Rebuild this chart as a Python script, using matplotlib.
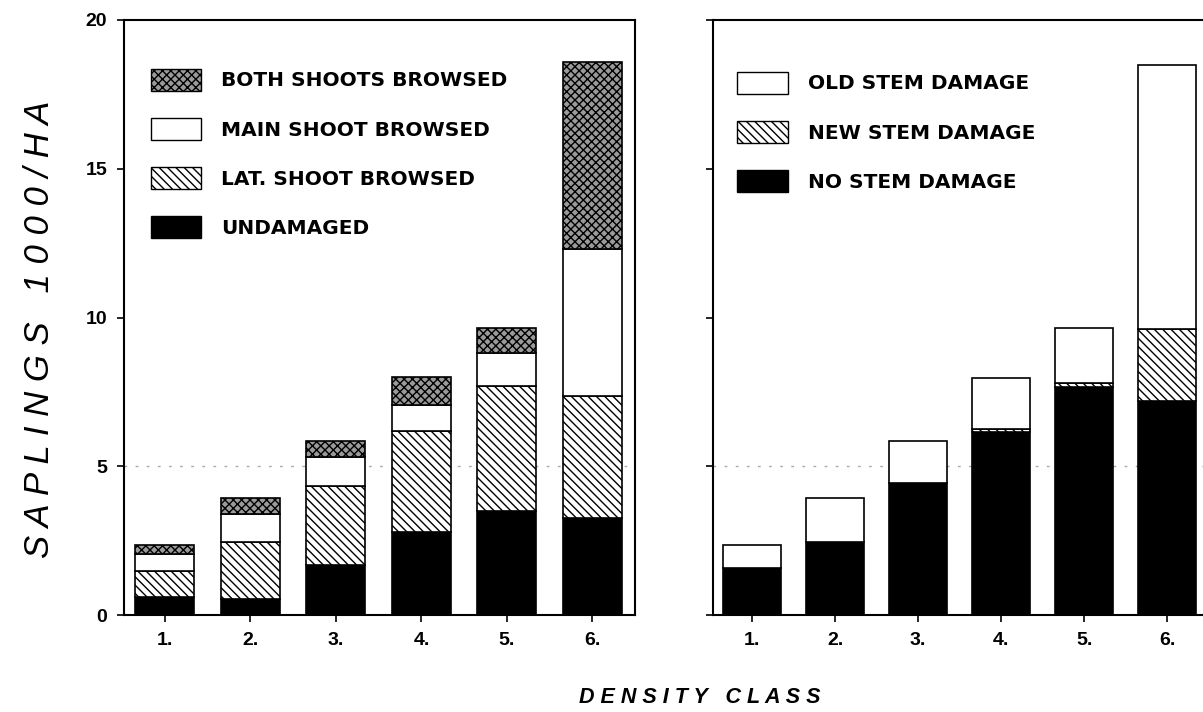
import matplotlib.pyplot as plt
from matplotlib.patches import Patch

plt.rcParams['font.family'] = ['Liberation Sans', 'DejaVu Sans']
plt.rcParams['hatch.linewidth'] = 1.0

# Density classes
classes = ["1.", "2.", "3.", "4.", "5.", "6."]

# Left panel: browsing damage (saplings 1000/ha), stacked bottom -> top
undamaged = [0.6, 0.55, 1.7, 2.8, 3.5, 3.25]
lat_shoot = [0.9, 1.9, 2.65, 3.4, 4.2, 4.1]
main_shoot = [0.55, 0.95, 0.95, 0.85, 1.1, 4.95]
both_shoots = [0.3, 0.55, 0.55, 0.95, 0.85, 6.3]

# Right panel: stem damage
no_stem = [1.6, 2.45, 4.45, 6.15, 7.65, 7.2]
new_stem = [0.0, 0.0, 0.0, 0.12, 0.15, 2.4]
old_stem = [0.75, 1.5, 1.4, 1.7, 1.85, 8.9]

x = list(range(1, len(classes) + 1))
w = 0.69

fig = plt.figure(figsize=(12.03, 7.12), dpi=100)
ax1 = fig.add_axes([0.103, 0.136, 0.425, 0.836])
ax2 = fig.add_axes([0.5927, 0.136, 0.4106, 0.836])

# left stacked bars
b = [0] * len(x)
ax1.bar(x, undamaged, w, bottom=b, color='black', edgecolor='black', lw=1.2)
b = [p + q for p, q in zip(b, undamaged)]
ax1.bar(x, lat_shoot, w, bottom=b, color='white', edgecolor='black', hatch='\\\\\\\\', lw=1.2)
b = [p + q for p, q in zip(b, lat_shoot)]
ax1.bar(x, main_shoot, w, bottom=b, color='white', edgecolor='black', lw=1.2)
b = [p + q for p, q in zip(b, main_shoot)]
ax1.bar(x, both_shoots, w, bottom=b, color='#9a9a9a', edgecolor='black', hatch='xxxx', lw=1.2)

# right stacked bars
b = [0] * len(x)
ax2.bar(x, no_stem, w, bottom=b, color='black', edgecolor='black', lw=1.2)
b = [p + q for p, q in zip(b, no_stem)]
ax2.bar(x, new_stem, w, bottom=b, color='white', edgecolor='black', hatch='\\\\\\\\', lw=1.2)
b = [p + q for p, q in zip(b, new_stem)]
ax2.bar(x, old_stem, w, bottom=b, color='white', edgecolor='black', lw=1.2)

ax1.set_xlim(0.52, 6.5)
ax2.set_xlim(0.53, 6.48)
for ax in (ax1, ax2):
    ax.set_ylim(0, 20)
    ax.set_xticks(x)
    ax.set_xticklabels(classes, fontsize=14, fontweight='bold')
    ax.set_yticks([0, 5, 10, 15, 20])
    ax.axhline(5, color='#aaaaaa', lw=1, ls=(0, (2, 6)), zorder=0)
    ax.tick_params(direction='out', length=5, width=1.2, pad=7)
    for s in ax.spines.values():
        s.set_linewidth(1.5)

ax1.set_yticklabels(['0', '5', '10', '15', '20'], fontsize=14, fontweight='bold')
ax2.set_yticklabels([])

leg_font = {'family': 'DejaVu Sans', 'weight': 'bold', 'size': 14.5}

leg1 = [Patch(facecolor='#9a9a9a', edgecolor='black', hatch='xxxx', label='BOTH SHOOTS BROWSED'),
        Patch(facecolor='white', edgecolor='black', label='MAIN SHOOT BROWSED'),
        Patch(facecolor='white', edgecolor='black', hatch='\\\\\\\\', label='LAT. SHOOT BROWSED'),
        Patch(facecolor='black', edgecolor='black', label='UNDAMAGED')]
ax1.legend(handles=leg1, loc='upper left', bbox_to_anchor=(0.053, 0.918), frameon=False,
           prop=leg_font, handlelength=2.5, handleheight=1.3, borderpad=0, borderaxespad=0,
           labelspacing=1.35, handletextpad=1.0)

leg2 = [Patch(facecolor='white', edgecolor='black', label='OLD STEM DAMAGE'),
        Patch(facecolor='white', edgecolor='black', hatch='\\\\\\\\', label='NEW STEM DAMAGE'),
        Patch(facecolor='black', edgecolor='black', label='NO STEM DAMAGE')]
ax2.legend(handles=leg2, loc='upper left', bbox_to_anchor=(0.049, 0.913), frameon=False,
           prop=leg_font, handlelength=2.5, handleheight=1.3, borderpad=0, borderaxespad=0,
           labelspacing=1.35, handletextpad=1.0)

fig.text(0.033, 0.537, 'S A P L I N G S   1 0 0 0 / H A', rotation=90, ha='center', va='center',
         fontsize=25, fontstyle='italic')
fig.text(0.582, 0.02, 'D E N S I T Y   C L A S S', ha='center', va='center',
         fontsize=15.5, fontstyle='italic', fontweight='bold')

fig.savefig('out.png', dpi=100)
